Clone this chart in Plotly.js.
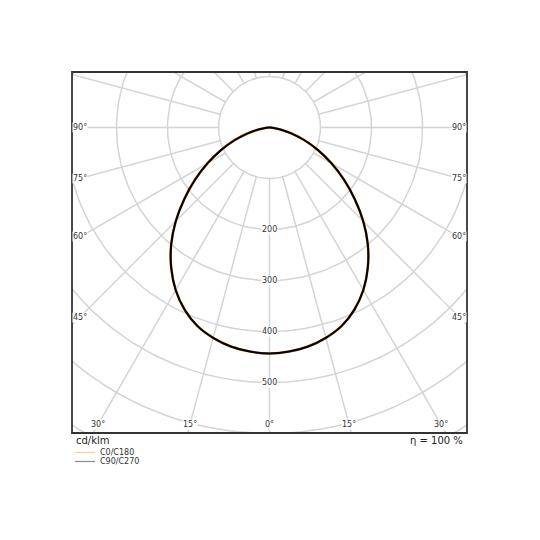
<!DOCTYPE html>
<html>
<head>
<meta charset="utf-8">
<script src="https://cdn.plot.ly/plotly-3.0.1.min.js"></script>
<style>html,body{margin:0;padding:0;background:#fff;}#chart{width:540px;height:540px;}</style>
</head>
<body>
<div id="chart"></div>
<script>
// gamma angles (deg from nadir) and luminous intensity (cd/klm)
const gammaAngles = [0,5,10,15,20,25,30,35,40,45,50,55,60,65,70,75,80,85,90];
const c0c180 = [443,441,436,427,414,394,368,336,300,260,218,178,140,105,73,44,20,6,0];
const c90c270 = [443,441,436,427,414,394,368,336,300,260,218,178,140,105,73,44,20,6,0];
const radialTicks = [100,200,300,400,500,600,700,800,900];
const radialLabels = [200,300,400,500];
const sideAngleLabels = [45,60,75,90];
const bottomAngleLabels = [-30,-15,0,15,30];
const legendNames = ['C0/C180','C90/C270'];
const legendColors = ['#f5cf98','#8a8a8a'];

const XR = 387.3, YT = 108.8, YB = -599; // axis ranges
const d2r = Math.PI/180;
const gridColor = '#d4d4d4';
const textColor = '#333333';
const font = 'DejaVu Sans, sans-serif';

function curve(vals){
  const xs=[], ys=[];
  for(let i=gammaAngles.length-1;i>=0;i--){ const a=-gammaAngles[i]*d2r; xs.push(vals[i]*Math.sin(a)); ys.push(-vals[i]*Math.cos(a)); }
  for(let i=1;i<gammaAngles.length;i++){ const a=gammaAngles[i]*d2r; xs.push(vals[i]*Math.sin(a)); ys.push(-vals[i]*Math.cos(a)); }
  return {xs, ys};
}
const traces = [];
// grid circles
radialTicks.forEach(r=>{
  const xs=[], ys=[];
  for(let a=0;a<=360;a+=2){ xs.push(r*Math.sin(a*d2r)); ys.push(r*Math.cos(a*d2r)); }
  traces.push({x:xs,y:ys,mode:'lines',line:{color:gridColor,width:1.5},hoverinfo:'skip',showlegend:false});
});
// spokes
for(let a=0;a<360;a+=15){
  const s=Math.sin(a*d2r), c=Math.cos(a*d2r);
  traces.push({x:[100*s,1200*s],y:[-100*c,-1200*c],mode:'lines',line:{color:gridColor,width:1.5},hoverinfo:'skip',showlegend:false});
}
const k1 = curve(c0c180), k2 = curve(c90c270);
traces.push({x:k1.xs,y:k1.ys,mode:'lines',name:legendNames[0],line:{color:'#c9842a',width:2.6,shape:'spline',smoothing:1},showlegend:false});
traces.push({x:k2.xs,y:k2.ys,mode:'lines',name:legendNames[1],line:{color:'#000000',width:2,shape:'spline',smoothing:1},showlegend:false});

const annotations = [];
radialLabels.forEach(v=>{
  annotations.push({x:0,y:-v,text:String(v),showarrow:false,font:{family:font,size:8,color:textColor},bgcolor:'#ffffff',borderpad:0,xanchor:'center',yanchor:'middle'});
});
const off = 15.7;
sideAngleLabels.forEach(a=>{
  const xx = XR-off, yy = -xx/Math.tan(a*d2r);
  [-1,1].forEach(sg=>{
    annotations.push({x:sg*xx,y:yy,text:a+'°',showarrow:false,font:{family:font,size:8,color:textColor},bgcolor:'#ffffff',borderpad:0,xanchor:'center',yanchor:'middle'});
  });
});
bottomAngleLabels.forEach(a=>{
  const yy = YB+off, xx = -yy*Math.tan(a*d2r);
  annotations.push({x:xx,y:yy,text:Math.abs(a)+'°',showarrow:false,font:{family:font,size:8,color:textColor},bgcolor:'#ffffff',borderpad:0,xanchor:'center',yanchor:'middle'});
});
annotations.push({xref:'paper',yref:'paper',x:0,y:-0.021,xshift:2,text:'cd/klm',showarrow:false,xanchor:'left',yanchor:'middle',font:{family:font,size:10,color:'#222'}});
annotations.push({xref:'paper',yref:'paper',x:1,y:-0.021,xshift:-2,text:'η = 100 %',showarrow:false,xanchor:'right',yanchor:'middle',font:{family:font,size:10,color:'#222'}});
const shapes = [{type:'rect',xref:'paper',yref:'paper',x0:0,x1:1,y0:0,y1:1,line:{color:'#333333',width:1.8},layer:'above'}];
legendNames.forEach((n,i)=>{
  const yp = (433-(452.5+9*i))/361;
  shapes.push({type:'line',xref:'paper',yref:'paper',x0:(75-72)/395,x1:(95-72)/395,y0:yp,y1:yp,line:{color:legendColors[i],width:1.2}});
  annotations.push({xref:'paper',yref:'paper',x:(98-72)/395,y:yp,text:n,showarrow:false,xanchor:'left',yanchor:'middle',font:{family:font,size:8,color:textColor}});
});

const layout = {
  width:540,height:540,
  margin:{l:72,r:73,t:72,b:107},
  paper_bgcolor:'#ffffff',plot_bgcolor:'#ffffff',
  xaxis:{range:[-XR,XR],visible:false,fixedrange:true},
  yaxis:{range:[YB,YT],visible:false,fixedrange:true},
  showlegend:false,
  annotations:annotations,
  shapes:shapes
};
Plotly.newPlot('chart',traces,layout,{displayModeBar:false,staticPlot:true});
</script>
</body>
</html>
